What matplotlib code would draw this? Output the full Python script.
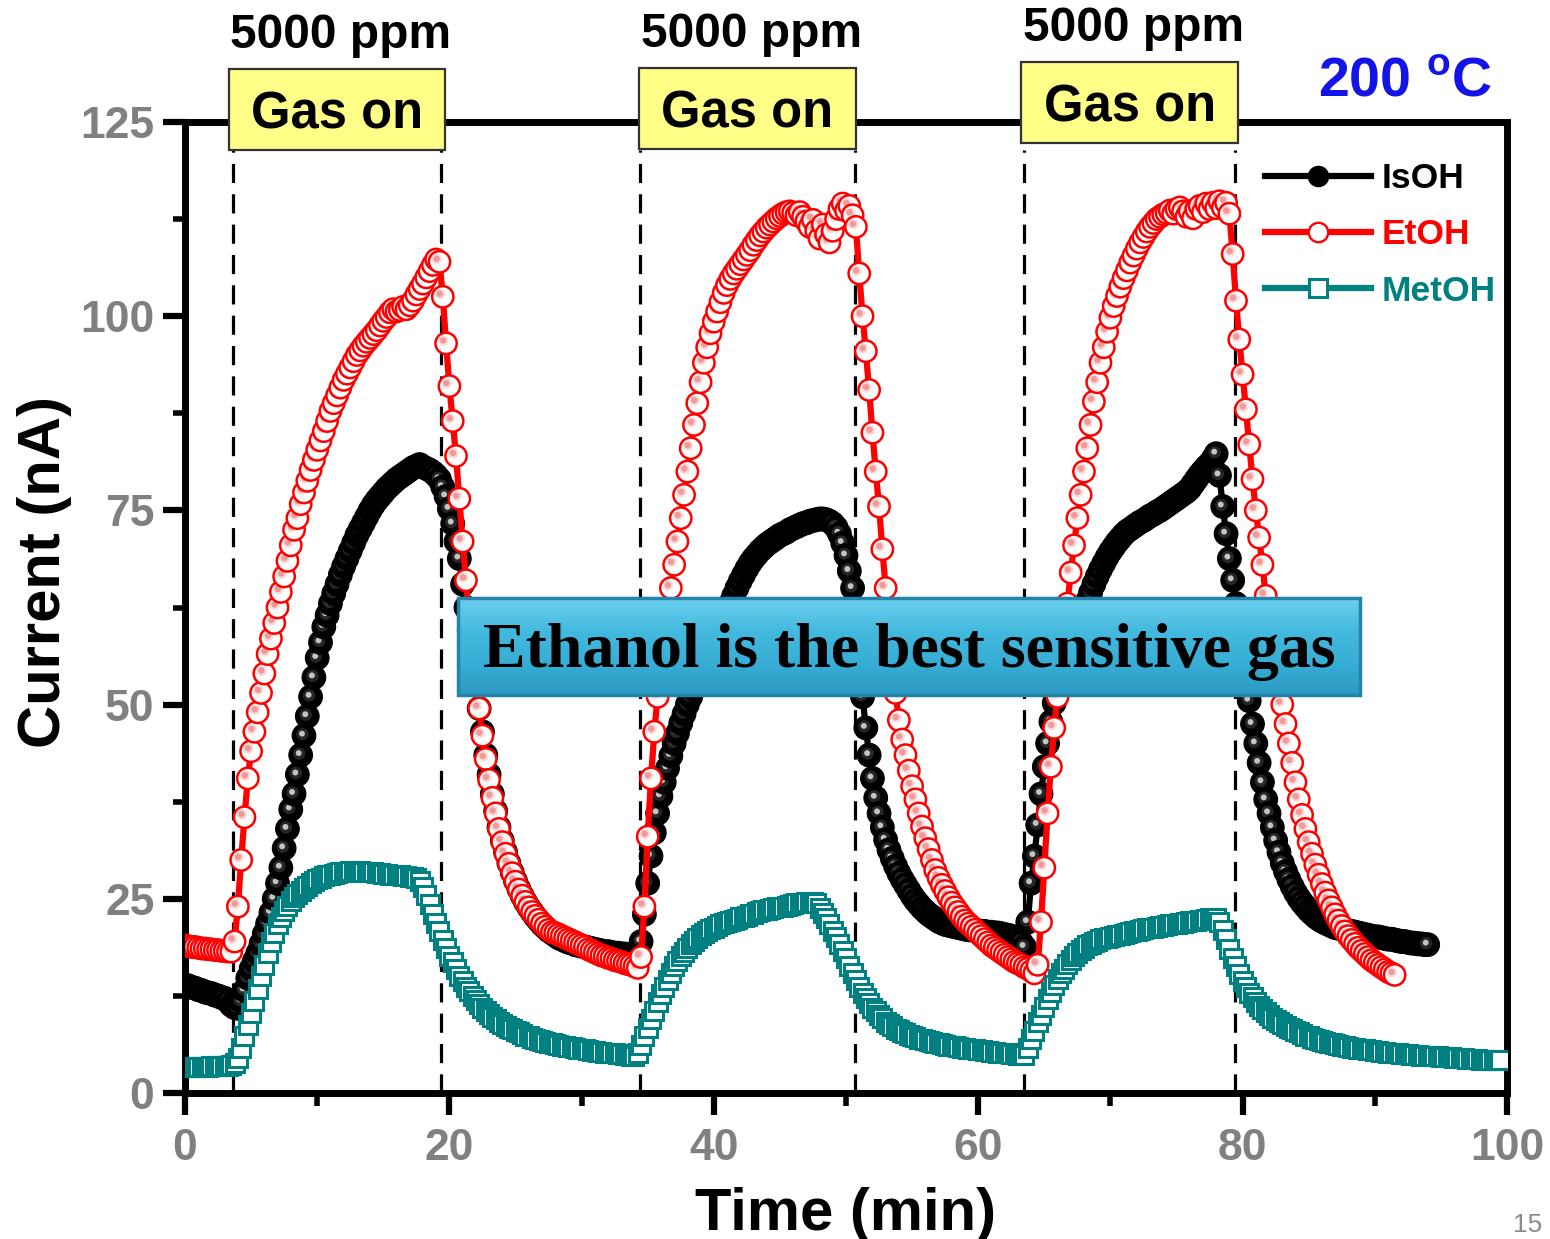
import numpy as np
import matplotlib
matplotlib.use("Agg")
import matplotlib.pyplot as plt
from matplotlib.patches import Rectangle
from matplotlib.lines import Line2D
from matplotlib.colors import to_rgba, LinearSegmentedColormap
from matplotlib.ticker import MultipleLocator

plt.rcParams['font.family'] = ['Liberation Sans', 'DejaVu Sans']
plt.rcParams['mathtext.fontset'] = 'custom'
plt.rcParams['mathtext.rm'] = 'Liberation Sans'
plt.rcParams['mathtext.bf'] = 'Liberation Sans:bold'

# ---------------- data (sampling step 0.25 min) ----------------
DT = 0.25
isoh = np.array([
    13.9, 13.8, 13.6, 13.5, 13.3, 13.2, 13.0, 12.9, 12.8, 12.6, 12.5, 12.3, 12.2, 11.8, 11.3, 11.0, 10.9, 11.8, 13.2, 14.8,
    16.0, 17.0, 18.0, 19.2, 20.5, 21.8, 23.2, 25.0, 27.0, 29.0, 31.5, 34.0, 36.5, 38.5, 41.0, 43.5, 46.0, 48.5, 51.0, 53.5,
    56.0, 58.0, 60.0, 61.5, 63.0, 64.3, 65.5, 66.7, 67.8, 68.8, 69.8, 70.8, 71.8, 72.6, 73.4, 74.2, 75.0, 75.7, 76.3, 76.8,
    77.3, 77.8, 78.2, 78.6, 79.0, 79.3, 79.6, 79.9, 80.2, 80.5, 80.7, 80.9, 80.6, 80.4, 80.2, 79.9, 79.5, 79.0, 78.0, 76.8,
    75.2, 73.3, 71.0, 68.8, 65.5, 62.5, 59.5, 56.0, 52.5, 49.5, 46.5, 43.5, 41.0, 38.5, 36.3, 34.2, 32.5, 31.0, 29.6, 28.4,
    27.3, 26.3, 25.4, 24.6, 23.9, 23.3, 22.7, 22.2, 21.7, 21.3, 20.9, 20.6, 20.3, 20.0, 19.8, 19.6, 19.4, 19.3, 19.1, 19.0,
    18.9, 18.8, 18.7, 18.6, 18.5, 18.4, 18.3, 18.2, 18.2, 18.1, 18.0, 18.0, 17.9, 17.9, 17.8, 17.8, 17.7, 17.7, 19.5, 23.0,
    27.0, 30.5, 33.5, 36.0, 38.2, 40.0, 41.8, 43.4, 45.0, 46.3, 47.6, 48.8, 50.0, 51.0, 52.0, 53.0, 54.0, 55.0, 56.0, 57.0,
    58.0, 59.0, 60.0, 61.0, 62.0, 63.0, 64.0, 65.0, 65.9, 66.7, 67.5, 68.2, 68.8, 69.3, 69.8, 70.2, 70.6, 70.9, 71.2, 71.5,
    71.8, 72.0, 72.2, 72.5, 72.7, 72.9, 73.1, 73.3, 73.4, 73.6, 73.7, 73.8, 73.9, 73.9, 73.8, 73.6, 73.3, 72.8, 72.0, 70.8,
    69.2, 67.2, 65.0, 62.0, 56.0, 51.0, 47.0, 43.5, 40.5, 38.0, 36.0, 34.2, 32.6, 31.3, 30.2, 29.2, 28.3, 27.5, 26.8, 26.1,
    25.4, 24.8, 24.3, 23.8, 23.4, 23.0, 22.7, 22.4, 22.1, 21.9, 21.7, 21.6, 21.5, 21.4, 21.3, 21.2, 21.1, 21.0, 21.0, 20.9,
    20.9, 20.8, 20.8, 20.7, 20.7, 20.6, 20.6, 20.5, 20.4, 20.3, 20.2, 20.0, 19.8, 19.4, 18.8, 22.0, 27.0, 30.5, 34.5, 38.5,
    42.0, 45.0, 47.8, 50.2, 52.3, 54.0, 55.5, 56.8, 58.0, 59.2, 60.3, 61.3, 62.3, 63.3, 64.4, 65.5, 66.5, 67.4, 68.2, 69.0,
    69.7, 70.3, 70.9, 71.4, 71.9, 72.3, 72.6, 72.9, 73.2, 73.5, 73.7, 74.0, 74.3, 74.5, 74.8, 75.0, 75.3, 75.6, 75.9, 76.2,
    76.5, 76.8, 77.1, 77.4, 77.8, 78.4, 79.0, 79.6, 80.1, 80.6, 81.0, 81.6, 82.3, 79.5, 75.5, 72.0, 68.8, 66.0, 63.0, 59.5,
    56.0, 53.0, 50.5, 47.5, 45.0, 42.5, 40.0, 37.8, 36.0, 34.2, 32.5, 31.0, 29.6, 28.5, 27.5, 26.6, 25.8, 25.1, 24.5, 24.0,
    23.5, 23.1, 22.7, 22.4, 22.1, 21.9, 21.7, 21.5, 21.3, 21.2, 21.1, 21.0, 20.9, 20.8, 20.7, 20.6, 20.5, 20.4, 20.3, 20.2,
    20.1, 20.1, 20.0, 19.9, 19.8, 19.8, 19.7, 19.6, 19.5, 19.5, 19.4, 19.3, 19.3, 19.2, 19.2, 19.1, 19.1,
])
etoh = np.array([
    19.0, 18.9, 18.8, 18.8, 18.7, 18.6, 18.6, 18.5, 18.5, 18.4, 18.4, 18.3, 18.3, 18.2, 18.2, 19.5, 24.0, 30.0, 35.5, 40.5,
    44.0, 46.5, 49.0, 51.5, 54.0, 56.5, 58.5, 60.5, 62.5, 64.5, 66.5, 68.5, 70.5, 72.5, 74.0, 75.8, 77.3, 78.8, 80.2, 81.5,
    82.8, 84.0, 85.2, 86.5, 87.8, 88.8, 89.8, 90.8, 91.8, 92.6, 93.4, 94.2, 95.0, 95.6, 96.2, 96.7, 97.2, 97.7, 98.2, 98.8,
    99.4, 99.9, 100.5, 100.9, 100.6, 100.8, 101.2, 100.9, 101.4, 102.0, 102.8, 103.5, 104.2, 105.0, 105.8, 106.6, 107.3, 107.0, 102.5, 96.5,
    91.0, 86.5, 82.0, 76.5, 71.0, 66.0, 61.0, 57.0, 53.0, 49.5, 46.0, 43.0, 40.3, 38.0, 36.0, 34.0, 32.3, 30.8, 29.5, 28.3,
    27.2, 26.2, 25.4, 24.6, 23.9, 23.3, 22.8, 22.3, 21.8, 21.4, 21.0, 20.7, 20.6, 20.4, 20.2, 20.0, 19.8, 19.6, 19.4, 19.2,
    19.0, 18.8, 18.5, 18.3, 18.1, 17.9, 17.7, 17.6, 17.4, 17.3, 17.1, 17.0, 16.9, 16.7, 16.6, 16.5, 16.3, 16.1, 17.5, 24.0,
    33.0, 40.5, 46.5, 51.0, 55.0, 58.5, 62.0, 65.0, 68.0, 71.0, 74.0, 77.0, 80.0, 83.0, 86.0, 88.8, 91.5, 94.0, 96.0, 97.8,
    99.3, 100.6, 101.8, 103.0, 104.0, 104.8, 105.5, 106.1, 106.7, 107.3, 107.9, 108.5, 109.2, 109.8, 110.4, 110.9, 111.4, 111.8, 112.2, 112.6,
    112.9, 113.2, 113.4, 113.5, 113.3, 113.0, 113.4, 112.8, 112.2, 111.5, 112.4, 111.0, 110.0, 111.8, 110.5, 109.5, 111.0, 112.5, 113.8, 114.5,
    113.6, 114.2, 113.0, 111.5, 105.5, 100.0, 95.5, 90.5, 85.0, 80.0, 75.5, 70.0, 65.0, 60.0, 55.5, 51.5, 48.0, 45.5, 43.5, 41.5,
    39.5, 37.8, 36.0, 34.3, 32.8, 31.4, 30.0, 28.7, 27.7, 26.8, 26.0, 25.2, 24.5, 23.9, 23.3, 22.7, 22.2, 21.8, 21.4, 21.0,
    20.6, 20.2, 19.8, 19.4, 19.0, 18.7, 18.4, 18.1, 17.8, 17.5, 17.2, 16.9, 16.7, 16.5, 16.2, 16.0, 15.7, 15.4, 16.5, 22.0,
    29.0, 36.0, 42.0, 47.0, 51.0, 55.0, 59.0, 63.0, 67.0, 70.5, 74.0, 77.0, 80.0, 83.0, 86.0, 89.0, 91.5, 94.0, 96.0, 98.0,
    99.8, 101.3, 102.6, 103.8, 104.9, 105.9, 106.9, 107.8, 108.7, 109.5, 110.2, 110.9, 111.5, 112.0, 112.5, 112.8, 113.1, 113.3, 113.6, 113.2,
    113.8, 114.0, 113.5, 112.8, 113.5, 112.6, 113.8, 114.2, 113.4, 114.5, 113.8, 114.6, 113.9, 114.8, 114.0, 114.6, 113.2, 108.0, 102.0, 97.0,
    92.5, 88.0, 83.5, 79.0, 75.0, 71.5, 68.0, 64.0, 61.0, 58.0, 55.0, 52.5, 50.0, 47.5, 45.0, 42.5, 40.0, 37.8, 35.8, 34.0,
    32.3, 30.8, 29.4, 28.1, 26.9, 25.8, 24.8, 23.9, 23.0, 22.2, 21.5, 20.8, 20.2, 19.7, 19.2, 18.7, 18.3, 17.9, 17.5, 17.1,
    16.8, 16.5, 16.2, 15.9, 15.6, 15.4, 15.2,
])
metoh = np.array([
    3.4, 3.4, 3.4, 3.4, 3.4, 3.4, 3.4, 3.4, 3.5, 3.5, 3.5, 3.5, 3.5, 3.5, 3.6, 3.8, 4.5, 5.8, 7.3, 8.8,
    10.3, 11.8, 13.4, 15.0, 16.5, 18.0, 19.4, 20.6, 21.7, 22.6, 23.4, 24.1, 24.7, 25.2, 25.6, 26.0, 26.4, 26.7, 27.0, 27.3,
    27.5, 27.7, 27.9, 28.0, 28.1, 28.2, 28.3, 28.4, 28.5, 28.5, 28.6, 28.6, 28.6, 28.6, 28.5, 28.5, 28.4, 28.4, 28.3, 28.3,
    28.2, 28.2, 28.1, 28.1, 28.0, 28.0, 27.9, 27.9, 27.8, 27.8, 27.7, 27.3, 26.5, 25.5, 24.3, 23.1, 21.9, 20.8, 19.7, 18.7,
    17.7, 16.8, 15.9, 15.1, 14.4, 13.7, 13.1, 12.5, 12.0, 11.5, 11.0, 10.6, 10.2, 9.8, 9.5, 9.2, 8.9, 8.6, 8.4, 8.2,
    8.0, 7.8, 7.6, 7.4, 7.3, 7.1, 7.0, 6.8, 6.7, 6.6, 6.5, 6.4, 6.3, 6.2, 6.1, 6.0, 5.9, 5.9, 5.8, 5.7,
    5.6, 5.6, 5.5, 5.4, 5.4, 5.3, 5.3, 5.2, 5.2, 5.1, 5.1, 5.0, 5.0, 4.9, 4.9, 4.8, 4.8, 5.2, 6.2, 7.3,
    8.4, 9.5, 10.6, 11.7, 12.7, 13.7, 14.6, 15.5, 16.3, 17.0, 17.6, 18.2, 18.7, 19.2, 19.6, 20.0, 20.3, 20.6, 20.9, 21.1,
    21.3, 21.5, 21.7, 21.9, 22.0, 22.2, 22.3, 22.4, 22.6, 22.7, 22.8, 23.0, 23.1, 23.3, 23.4, 23.5, 23.6, 23.7, 23.8, 23.9,
    24.0, 24.0, 24.1, 24.2, 24.3, 24.4, 24.5, 24.5, 24.6, 24.6, 24.6, 24.4, 23.8, 23.2, 22.5, 21.7, 20.9, 20.1, 19.2, 18.3,
    17.4, 16.4, 15.4, 14.5, 13.7, 12.9, 12.2, 11.6, 11.0, 10.5, 10.0, 9.6, 9.2, 8.9, 8.6, 8.3, 8.1, 7.9, 7.7, 7.5,
    7.3, 7.2, 7.0, 6.9, 6.8, 6.7, 6.6, 6.5, 6.4, 6.3, 6.2, 6.1, 6.0, 6.0, 5.9, 5.8, 5.8, 5.7, 5.6, 5.6,
    5.5, 5.5, 5.4, 5.4, 5.3, 5.3, 5.2, 5.2, 5.1, 5.1, 5.0, 5.0, 4.9, 4.9, 4.9, 5.8, 6.9, 8.0, 9.1, 10.1,
    11.1, 12.1, 13.0, 13.9, 14.7, 15.4, 16.0, 16.6, 17.1, 17.6, 18.0, 18.4, 18.7, 19.0, 19.2, 19.4, 19.6, 19.8, 19.9, 20.0,
    20.1, 20.2, 20.3, 20.4, 20.5, 20.6, 20.7, 20.8, 20.9, 21.0, 21.1, 21.2, 21.2, 21.3, 21.4, 21.5, 21.5, 21.6, 21.7, 21.7,
    21.8, 21.9, 21.9, 22.0, 22.1, 22.1, 22.2, 22.3, 22.3, 22.4, 22.5, 22.5, 22.5, 22.0, 21.0, 19.8, 18.6, 17.4, 16.3, 15.3,
    14.4, 13.6, 12.9, 12.3, 11.7, 11.2, 10.8, 10.4, 10.0, 9.7, 9.4, 9.1, 8.9, 8.6, 8.4, 8.2, 8.0, 7.8, 7.6, 7.4,
    7.3, 7.1, 7.0, 6.8, 6.7, 6.6, 6.5, 6.4, 6.3, 6.2, 6.1, 6.0, 5.9, 5.8, 5.8, 5.7, 5.6, 5.6, 5.5, 5.5,
    5.4, 5.4, 5.3, 5.3, 5.2, 5.2, 5.1, 5.1, 5.0, 5.0, 5.0, 4.9, 4.9, 4.9, 4.8, 4.8, 4.8, 4.7, 4.7, 4.7,
    4.6, 4.6, 4.6, 4.6, 4.5, 4.5, 4.5, 4.5, 4.4, 4.4, 4.4, 4.4, 4.3, 4.3, 4.3, 4.3, 4.2, 4.2, 4.2,
])
t_isoh = np.arange(len(isoh)) * DT
t_etoh = np.arange(len(etoh)) * DT
t_metoh = np.arange(len(metoh)) * DT

series_names = ['IsOH', 'EtOH', 'MetOH']
gas_on_start = [3.6, 34.4, 63.5]
gas_on_end = [19.4, 50.7, 79.4]
conc_label = '5000 ppm'
gas_label = 'Gas on'
temp_label = r'200 $^{\mathbf{o}}$C'
note_label = 'Ethanol is the best sensitive gas'
x_ticks = [0, 20, 40, 60, 80, 100]
y_ticks = [0, 25, 50, 75, 100, 125]

# ---------------- style ----------------
RED = '#FF0000'
TEAL = '#008080'
GRAY = '#808080'
W, H = 1550, 1239
fig = plt.figure(figsize=(W / 100, H / 100), dpi=100)
ax = fig.add_axes([185 / W, 1 - 1093 / H, 1322 / W, 971 / H])
ax.set_xlim(0, 100)
ax.set_ylim(0, 125)
PX_X = 1322 / 100.0   # pixels per minute
PX_Y = 971 / 125.0    # pixels per nA


def layered_scatter(t, v, layers, z):
    """Draw each point as a stack of layers (sphere look), point by point."""
    k = len(layers)
    n = len(t)
    X = np.empty(n * k)
    Y = np.empty(n * k)
    S = np.empty(n * k)
    LW = np.empty(n * k)
    FC = np.empty((n * k, 4))
    EC = np.empty((n * k, 4))
    for j, (s, fc, ec, lw, dxp, dyp) in enumerate(layers):
        X[j::k] = t + dxp / PX_X
        Y[j::k] = v + dyp / PX_Y
        S[j::k] = s
        LW[j::k] = lw
        FC[j::k] = to_rgba(fc)
        EC[j::k] = to_rgba(ec)
    ax.scatter(X, Y, s=S, c=FC, edgecolors=EC, linewidths=LW, zorder=z)


# IsOH: black spheres
ax.plot(t_isoh, isoh, color='black', lw=4.5, zorder=3)
layered_scatter(t_isoh, isoh, [
    (290, '#000000', '#000000', 0.8, 0, 0),
    (80, '#262626', '#262626', 0, -1.5, 1.5),
    (18, '#c4c4c4', '#c4c4c4', 0, -2.0, 2.0),
], 3.1)

# EtOH: open red circles with pink highlight
ax.plot(t_etoh, etoh, color=RED, lw=4.5, zorder=3.2)
layered_scatter(t_etoh, etoh, [
    (235, '#ffffff', RED, 1.8, 0, 0),
    (60, '#fcdcdc', '#fcdcdc', 0, -2.8, 2.8),
    (22, '#f29a9a', '#f29a9a', 0, -3.0, 3.0),
], 3.3)

# MetOH: open teal squares
ax.plot(t_metoh, metoh, color=TEAL, lw=4.5, marker='s', ms=12.5, mfc='white',
        mec=TEAL, mew=2.2, zorder=3.4)

# dashed gas-on / gas-off lines
ax.vlines(gas_on_start + gas_on_end, 0, 121.4, colors='black', lw=2.3,
          linestyles=(0, (6, 3.5)), zorder=1, clip_on=False)

# axes styling
for sp in ax.spines.values():
    sp.set_linewidth(5)
ax.set_xticks(x_ticks)
ax.set_yticks(y_ticks)
ax.xaxis.set_minor_locator(MultipleLocator(10))
ax.yaxis.set_minor_locator(MultipleLocator(12.5))
ax.tick_params(which='major', direction='out', length=16, width=4.5,
               labelsize=32, labelcolor=GRAY, pad=6)
ax.tick_params(which='minor', direction='out', length=9, width=4)
ax.tick_params(axis='x', which='major', pad=9)
for lab in ax.get_xticklabels() + ax.get_yticklabels():
    lab.set_fontweight('bold')
ax.set_xlabel('Time (min)', fontsize=43, fontweight='bold', labelpad=13)
ax.set_ylabel('Current (nA)', fontsize=43, fontweight='bold')
ax.yaxis.set_label_coords((72 - 185) / 1322, (1093 - 572) / 971)

# legend
handles = [
    Line2D([], [], color='black', lw=4.5, marker='o', ms=14.5, mfc='black', mec='black'),
    Line2D([], [], color=RED, lw=4.5, marker='o', ms=14, mfc='white', mec=RED, mew=1.7),
    Line2D([], [], color=TEAL, lw=4.5, marker='s', ms=12.5, mfc='white', mec=TEAL, mew=2.2),
]
leg = ax.legend(handles, series_names, loc='upper left',
                bbox_to_anchor=((1265 - 185) / 1322, (1093 - 162) / 971),
                frameon=False, handlelength=3.0, handletextpad=0.3,
                labelspacing=0.66, borderpad=0, borderaxespad=0,
                prop={'family': 'Liberation Sans', 'weight': 'bold', 'size': 25.5},
                labelcolor=['black', RED, TEAL])
leg.set_zorder(6)

# gas-on boxes and labels
box_w = 16.4
box_h = 10.4
box_lift = [0.0, 0.1, 0.9]
for s, e, lift in zip(gas_on_start, gas_on_end, box_lift):
    c = 0.5 * (s + e)
    yb = 121.4 + lift
    ax.add_patch(Rectangle((c - box_w / 2, yb), box_w, box_h, facecolor='#FFFF88',
                           edgecolor='#333333', lw=1.6, clip_on=False, zorder=7))
    ax.text(c, yb + 2.8, gas_label, ha='center', va='baseline', fontsize=36.5,
            fontweight='bold', zorder=8, clip_on=False)
    ax.text(c + 0.3, yb + 13.1, conc_label, ha='center', va='baseline', fontsize=34.5,
            fontweight='bold', zorder=8, clip_on=False)

# temperature label
fig.text(1318 / W, 1 - 95 / H, temp_label, ha='left', va='baseline', fontsize=40,
         fontweight='bold', color='#1414E6')

# note box with gradient
bax = fig.add_axes([458 / W, 1 - 695 / H, (1360 - 458) / W, (695 - 598) / H])
cmap = LinearSegmentedColormap.from_list('blu', ['#6ED0EE', '#45BADF', '#38AED6', '#2C9AC3'])
bax.imshow(np.linspace(0, 1, 100)[:, None], cmap=cmap, aspect='auto',
           extent=[0, 1, 0, 1], origin='upper')
bax.set_xlim(0, 1)
bax.set_ylim(0, 1)
bax.set_axis_off()
bax.add_patch(Rectangle((0, 0), 1, 1, transform=bax.transAxes, fill=False,
                        edgecolor='#2383A8', lw=2.5, clip_on=False))
bax.text(0.5, 0.44, note_label, ha='center', va='center', fontsize=46,
         fontweight='bold', family='Liberation Serif', color='black')

# page number
fig.text(1542 / W, 1 - 1232 / H, '15', ha='right', va='baseline', fontsize=19,
         color='#8a8a8a')

fig.savefig('out.png', dpi=100)
